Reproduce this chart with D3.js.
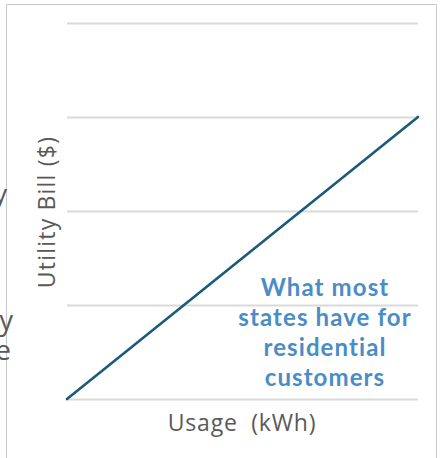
<!DOCTYPE html>
<html>
<head>
<meta charset="utf-8">
<script src="https://cdn.jsdelivr.net/npm/d3@7"></script>
<style>
  html, body { margin: 0; padding: 0; background: #fff; }
  svg { display: block; }
</style>
</head>
<body>
<svg id="chart" width="444" height="458"></svg>
<script>
// Linear rate: bill grows in proportion to usage
const usage = [0, 1000];
const bill = [0, 150];
const yTicks = [0, 50, 100, 150, 200];
const noteLines = ["What most", "states have for", "residential", "customers"];
const xTitle = "Usage  (kWh)";
const yTitle = "Utility Bill ($)";

const svg = d3.select("#chart");

const x = d3.scaleLinear().domain([0, 1000]).range([67, 418]);
const y = d3.scaleLinear().domain([0, 200]).range([399, 23]);

// slide frame
svg.append("path")
  .attr("d", "M6.5,460 V4.5 H436.5 V460")
  .attr("fill", "none")
  .attr("stroke", "#c8c8c8")
  .attr("stroke-width", 1);

// fragments of neighbouring slide text clipped by the frame
const frag = svg.append("g")
  .attr("font-family", "'Open Sans', sans-serif")
  .attr("fill", "#595959")
  .attr("text-anchor", "end");
frag.append("text").attr("x", 7).attr("y", 203).attr("font-size", 26).text("y");
frag.append("text").attr("x", 13).attr("y", 330).attr("font-size", 27).text("y");
frag.append("text").attr("x", 11).attr("y", 360).attr("font-size", 28).text("e");

// horizontal gridlines
const yAxis = d3.axisLeft(y).tickValues(yTicks).tickSize(-(418 - 67)).tickFormat("");
const gy = svg.append("g").attr("transform", "translate(67,0)").call(yAxis);
gy.select(".domain").remove();
gy.selectAll(".tick line").attr("stroke", "#d9d9d9").attr("stroke-width", 2);

// rate line
const line = d3.line().x((d, i) => x(usage[i])).y(d => y(d));
svg.append("path")
  .datum(bill)
  .attr("d", line)
  .attr("fill", "none")
  .attr("stroke", "#1b5a78")
  .attr("stroke-width", 2.6)
  .attr("stroke-linecap", "round");

// axis titles
svg.append("text")
  .attr("x", 242).attr("y", 431)
  .attr("text-anchor", "middle")
  .attr("font-family", "'Open Sans', sans-serif")
  .attr("font-size", 23)
  .attr("letter-spacing", 0.8)
  .attr("fill", "#595959")
  .attr("xml:space", "preserve")
  .text(xTitle);

svg.append("text")
  .attr("transform", "translate(55,212) rotate(-90)")
  .attr("text-anchor", "middle")
  .attr("font-family", "'Open Sans', sans-serif")
  .attr("font-size", 23)
  .attr("letter-spacing", 1.2)
  .attr("fill", "#595959")
  .text(yTitle);

// annotation
const note = svg.append("text")
  .attr("text-anchor", "middle")
  .attr("font-family", "Lato, sans-serif")
  .attr("font-weight", "bold")
  .attr("font-size", 24)
  .attr("letter-spacing", 1.1)
  .attr("fill", "#4a8dc6");
noteLines.forEach((t, i) => {
  note.append("tspan").attr("x", 325).attr("y", 296 + i * 30).text(t);
});
</script>
</body>
</html>
